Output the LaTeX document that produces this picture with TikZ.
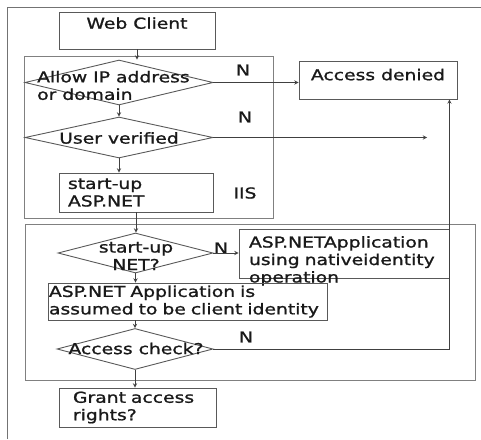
\documentclass[tikz,border=0pt]{standalone}
\usepackage{fontspec}
\setmainfont[FakeStretch=1.25, FakeBold=1.2]{DejaVu Sans}
\usetikzlibrary{shapes.geometric}

\tikzset{
  every node/.style={font=\fontsize{15}{17.5}\selectfont, text=black!90},
  box/.style={rectangle, draw=black!65, line width=0.9pt, inner ysep=2pt},
  dia/.style={diamond, draw=black!65, line width=0.9pt, inner sep=0pt},
  frame/.style={rectangle, draw=black!50, line width=1pt, inner sep=0pt},
  arr/.style={draw=black!75, line width=0.9pt, -stealth},
  edge/.style={draw=black!55, line width=1pt},
}

\begin{document}
\begin{tikzpicture}[x=1pt, y=-1pt]
    \useasboundingbox (0,0) rectangle (481,439);
    \draw[edge] (7,439) -- (7,7) -- (481,7);

    % the two frames
    \node[frame, minimum width=249pt, minimum height=162pt] (iis) at (148.5,137) {};
    \node[frame, minimum width=450pt, minimum height=156pt] (asp) at (250,302) {};

    \node[box, minimum width=156pt, minimum height=37pt, text depth=15pt] (web) at (137,30.5) {Web Client};
    \node[box, minimum width=158pt, minimum height=38pt, text depth=11pt] (deny) at (378,80) {Access denied};

    \node[dia, minimum width=188pt, minimum height=45pt] (d1) at (119,82.5) {};
    \node[anchor=west, align=left, inner sep=0pt] (d1t) at (37,85.5) {Allow IP address\\or domain};
    \node[dia, minimum width=188pt, minimum height=41pt] (d2) at (119,137.5) {};
    \node (d2t) at (119,138) {User verified};
    \node[box, text width=136pt, inner xsep=9pt, minimum height=39pt, align=left] (start) at (136,192.5) {start-up\\ASP.NET};

    \node[dia, minimum width=155pt, minimum height=40pt] (d3) at (135.5,253) {};
    \node[align=center, inner sep=0pt] (d3t) at (136,256) {start-up\\NET?};
    \node[box, text width=190pt, inner xsep=10pt, inner ysep=0pt, minimum height=49pt, text height=16.5pt, text depth=28.5pt, align=left] (app) at (344,253.5) {ASP.NETApplication\\using nativeidentity\\operation};
    \node[box, text width=277pt, inner xsep=1pt, minimum height=37pt, align=left] (b4) at (187.5,301.5) {ASP.NET Application is\\assumed to be client identity};
    \node[dia, minimum width=156pt, minimum height=41pt] (d5) at (135,349) {};
    \node (d5t) at (136,348.5) {Access check?};
    \node[box, text width=129pt, inner xsep=14pt, minimum height=39pt, align=left] (grant) at (137.5,407.5) {Grant access\\rights?};

    \node (n1) at (243,70) {N};
    \node (n2) at (245,117) {N};
    \node (n3) at (221,248) {N};
    \node (n4) at (246,337) {N};
    \node (iislbl) at (245,193) {IIS};

    \coordinate (vend) at (427,137.5);
    \coordinate (rise) at ([xshift=-8pt]deny.south east);

    \draw[arr] (web.south) -- (web.south |- d1.north);
    \draw[arr] (d1.east) -- (d1.east -| deny.west);
    \draw[arr] (d1.south) -- (d2.north);
    \draw[arr] (d2.east) -- (vend);
    \draw[arr] (d2.south) -- (d2.south |- start.north);
    \draw[arr] (start.south) -- (start.south |- d3.north);
    \draw[arr] (d3.east) -- (d3.east -| app.west);
    \draw[arr] (d3.south) -- (d3.south |- b4.north);
    \draw[arr] (d5.north |- b4.south) -- (d5.north);
    \draw[arr] (d5.east) -| (rise);
    \draw[arr] (d5.south) -- (d5.south |- grant.north);
\end{tikzpicture}
\end{document}
